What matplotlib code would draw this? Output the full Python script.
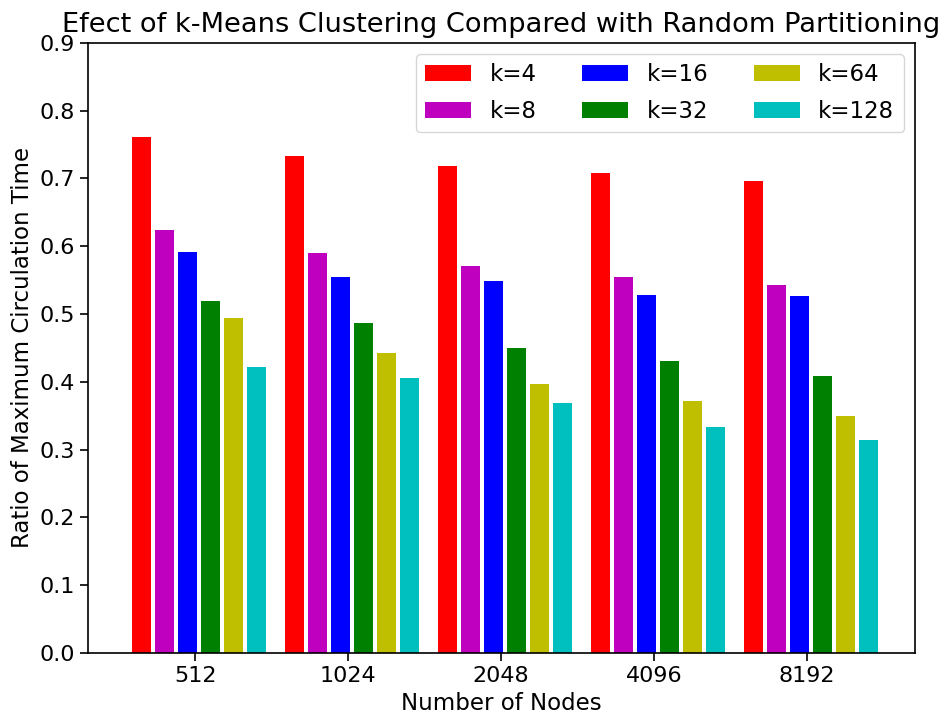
import matplotlib
matplotlib.use("Agg")
import matplotlib.pyplot as plt
import numpy as np

nodes = ["512", "1024", "2048", "4096", "8192"]
k_labels = ["k=4", "k=8", "k=16", "k=32", "k=64", "k=128"]
k4 = [0.761, 0.733, 0.718, 0.708, 0.696]
k8 = [0.624, 0.590, 0.570, 0.555, 0.543]
k16 = [0.591, 0.554, 0.549, 0.528, 0.527]
k32 = [0.519, 0.487, 0.450, 0.431, 0.409]
k64 = [0.494, 0.443, 0.396, 0.371, 0.349]
k128 = [0.422, 0.405, 0.368, 0.333, 0.314]
series = [k4, k8, k16, k32, k64, k128]
colors = ["r", "m", "b", "g", "y", "c"]

fig = plt.figure(figsize=(9.53, 7.23), dpi=100)
ax = fig.add_axes([88/953, (723-653)/723, (915-88)/953, (653-42.7)/723])

ind = np.arange(len(nodes))
step = 0.15
width = 0.125
for i, (vals, c, lab) in enumerate(zip(series, colors, k_labels)):
    ax.bar(ind - 0.35 + i*step, vals, width, color=c, label=lab)

ax.set_xticks(ind)
ax.set_xticklabels(nodes)
ax.set_xlim(-0.70, 4.706)
ax.set_ylim(0, 0.9)
ax.set_yticks(np.arange(0, 0.91, 0.1))
ax.set_yticklabels([f"{v:.1f}" for v in np.arange(0, 0.91, 0.1)])
ax.tick_params(labelsize=16, length=6, width=1.2)
for s in ax.spines.values():
    s.set_linewidth(1.2)
ax.set_xlabel("Number of Nodes", fontsize=16.5, labelpad=4)
ax.set_ylabel("Ratio of Maximum Circulation Time", fontsize=16.5)
ax.set_title("Efect of k-Means Clustering Compared with Random Partitioning",
             fontsize=19.6, pad=8)
ax.legend(ncol=3, loc="upper right", fontsize=16.5, labelspacing=0.6)

fig.savefig("out.png", dpi=100)
